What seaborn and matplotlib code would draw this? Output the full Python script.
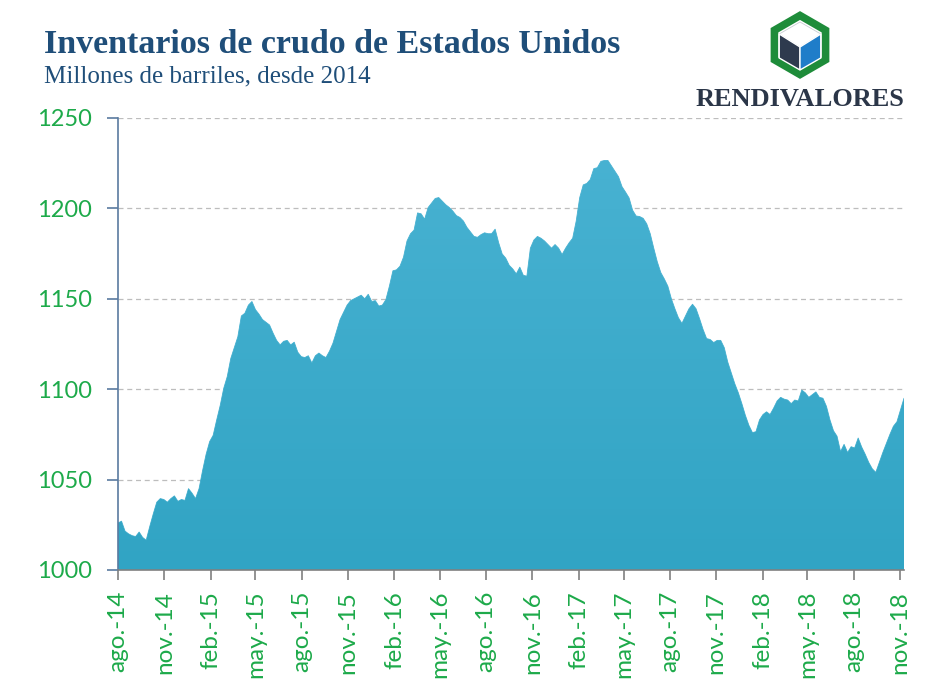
import numpy as np
import pandas as pd
import matplotlib
matplotlib.use("Agg")
import matplotlib.pyplot as plt
from matplotlib.colors import LinearSegmentedColormap
from matplotlib.patches import Polygon
import seaborn as sns

# weekly crude inventories, millions of barrels
start_date = "2014-08-01"
inventory = [
    1026, 1027, 1021.5, 1020, 1019, 1018.5, 1021, 1018, 1016.5, 1024,
    1031, 1037.5, 1039.5, 1039, 1037.5, 1039.5, 1041, 1038, 1039, 1038.5,
    1045, 1042.5, 1039.5, 1045, 1055, 1064, 1071, 1074.5, 1083, 1091,
    1100.5, 1107, 1117, 1123, 1129, 1140.5, 1142, 1146.5, 1148.5, 1144,
    1141.5, 1138.5, 1137, 1135.5, 1131, 1127, 1124.5, 1126.5, 1127, 1124.5,
    1126, 1120.5, 1118, 1117.5, 1118.5, 1114.5, 1118.5, 1120, 1118.5, 1117.5,
    1121, 1125.5, 1132, 1138.5, 1142.5, 1146.5, 1149, 1150, 1151, 1152,
    1150, 1152.5, 1148.5, 1149, 1146, 1146.5, 1149.5, 1157, 1165.5, 1166,
    1168, 1173, 1182, 1186, 1188, 1197.5, 1197, 1194, 1200.5, 1203,
    1205.5, 1206, 1204, 1202, 1200.5, 1198.5, 1196, 1195, 1193, 1189.5,
    1187, 1184.5, 1184, 1185.5, 1186.5, 1186, 1186, 1188.5, 1181, 1174.8,
    1172.5, 1168.5, 1166.5, 1163.8, 1167.5, 1163, 1162.5, 1178, 1182.5, 1184.5,
    1183.5, 1182, 1180, 1178, 1180, 1178, 1174.5, 1178, 1181, 1183.5,
    1193, 1206, 1213, 1213.8, 1216, 1222, 1222.5, 1226, 1226.5, 1226.5,
    1223.5, 1220.5, 1217.5, 1212, 1209, 1205.8, 1199, 1195.8, 1195.5, 1194.5,
    1191.5, 1186, 1178, 1170.5, 1164.5, 1161, 1157, 1150, 1144.5, 1139.5,
    1136.4, 1140.5, 1144.5, 1147, 1144.5, 1139, 1133, 1128, 1127.5, 1125.8,
    1127, 1127, 1123, 1115, 1109, 1103, 1098, 1092, 1085.5, 1080,
    1076, 1076.5, 1083, 1086, 1087.5, 1086, 1089.5, 1093.5, 1095.5, 1094.5,
    1094, 1092, 1094, 1093.5, 1099.5, 1098, 1095.5, 1097, 1098.5, 1095.5,
    1095, 1090.5, 1083, 1077, 1074, 1065.5, 1069.5, 1065, 1068.2, 1067.5,
    1073, 1068, 1064, 1059.5, 1056, 1054, 1059.5, 1065, 1070, 1075,
    1079.5, 1082, 1088.5, 1095,
]
dates = pd.date_range(start_date, periods=len(inventory), freq="7D")

tick_dates = pd.date_range("2014-08-01", "2018-11-01", freq="3MS")
tick_labels = [
    "ago.-14", "nov.-14", "feb.-15", "may.-15", "ago.-15", "nov.-15",
    "feb.-16", "may.-16", "ago.-16", "nov.-16", "feb.-17", "may.-17",
    "ago.-17", "nov.-17", "feb.-18", "may.-18", "ago.-18", "nov.-18",
]
y_ticks = [1000, 1050, 1100, 1150, 1200, 1250]

title = "Inventarios de crudo de Estados Unidos"
subtitle = "Millones de barriles, desde 2014"
brand = "RENDIVALORES"

df = pd.DataFrame({"fecha": dates, "inventario": inventory})

sns.set_theme(style="white")
plt.rcParams["font.family"] = ["Lato", "DejaVu Sans"]

W, H = 928, 690
fig = plt.figure(figsize=(W / 100, H / 100), dpi=100)
ax = fig.add_axes([118 / W, 1 - 570 / H, (904 - 118) / W, (570 - 118) / H])

green = "#1DAA4A"
top_col, bot_col = "#4AB3D3", "#31A4C4"

sns.lineplot(data=df, x="fecha", y="inventario", ax=ax, color=top_col, linewidth=0.6)
fill = ax.fill_between(df["fecha"], df["inventario"], 1000, color=top_col, linewidth=0)

# vertical gradient clipped to the filled area
ax.set_xlim(dates[0], dates[-1])
ax.set_ylim(1000, 1250)
x0, x1 = ax.get_xlim()
cmap = LinearSegmentedColormap.from_list("g", [bot_col, top_col])
grad = np.linspace(0, 1, 256).reshape(-1, 1)
img = ax.imshow(grad, cmap=cmap, aspect="auto", origin="lower",
                extent=[x0, x1, 1000, 1250], zorder=2)
img.set_clip_path(fill.get_paths()[0], transform=ax.transData)
fill.set_alpha(0)
ax.set_xlim(x0, x1)
ax.set_ylim(1000, 1250)

# grid
ax.set_yticks(y_ticks)
for v in y_ticks[1:]:
    ax.axhline(v, color="#BDBDBD", linewidth=0.9, linestyle=(0, (4, 3)), zorder=1)

ax.set_xticks(tick_dates)
ax.set_xticklabels(tick_labels, rotation=90)
ax.tick_params(axis="x", colors="#808080", length=7, width=1.2, pad=8,
               labelcolor=green, labelsize=17.5, direction="out", bottom=True)
ax.tick_params(axis="y", colors="#5A7AA0", length=8, width=1.2, pad=11,
               labelcolor=green, labelsize=17, direction="out", left=True)
ax.set_xlabel("")
ax.set_ylabel("")
for s in ["top", "right"]:
    ax.spines[s].set_visible(False)
ax.spines["left"].set_color("#5A7AA0")
ax.spines["left"].set_linewidth(1.2)
ax.spines["bottom"].set_color("#808080")
ax.spines["bottom"].set_linewidth(1.2)

# titles
fig.text(44 / W, 1 - 53 / H, title, fontsize=24.5, fontweight="bold",
         family="Liberation Serif", color="#1F4E79", va="baseline")
fig.text(44 / W, 1 - 82 / H, subtitle, fontsize=18,
         family="Liberation Serif", color="#1F4E79", va="baseline")

# logo
def fp(pts):
    return [(x / W, 1 - y / H) for x, y in pts]

cx, cy = 800, 45
def hexagon(r, c_y=cy):
    c = np.cos(np.pi / 6)
    return [(cx, c_y - r), (cx + r * c, c_y - r / 2), (cx + r * c, c_y + r / 2),
            (cx, c_y + r), (cx - r * c, c_y + r / 2), (cx - r * c, c_y - r / 2)]

fig.patches.append(Polygon(fp(hexagon(29.5)), closed=True, fill=False,
                           edgecolor="#1E8C3A", linewidth=5.5, transform=fig.transFigure))
h = hexagon(24, cy + 1)
cen = (cx, cy + 2)
fig.patches.append(Polygon(fp([h[0], h[1], cen, h[5]]), closed=True, facecolor="white",
                           edgecolor="#C8CCD2", linewidth=0.6, transform=fig.transFigure))
fig.patches.append(Polygon(fp([h[5], cen, h[3], h[4]]), closed=True, facecolor="#2E3A4E",
                           edgecolor="white", linewidth=1, transform=fig.transFigure))
fig.patches.append(Polygon(fp([cen, h[1], h[2], h[3]]), closed=True, facecolor="#1F7DC9",
                           edgecolor="white", linewidth=1, transform=fig.transFigure))
fig.text(800 / W, 1 - 106 / H, brand, fontsize=19, fontweight="bold",
         family="Liberation Serif", color="#2B3648", ha="center", va="baseline")

fig.savefig("out.png", dpi=100)
